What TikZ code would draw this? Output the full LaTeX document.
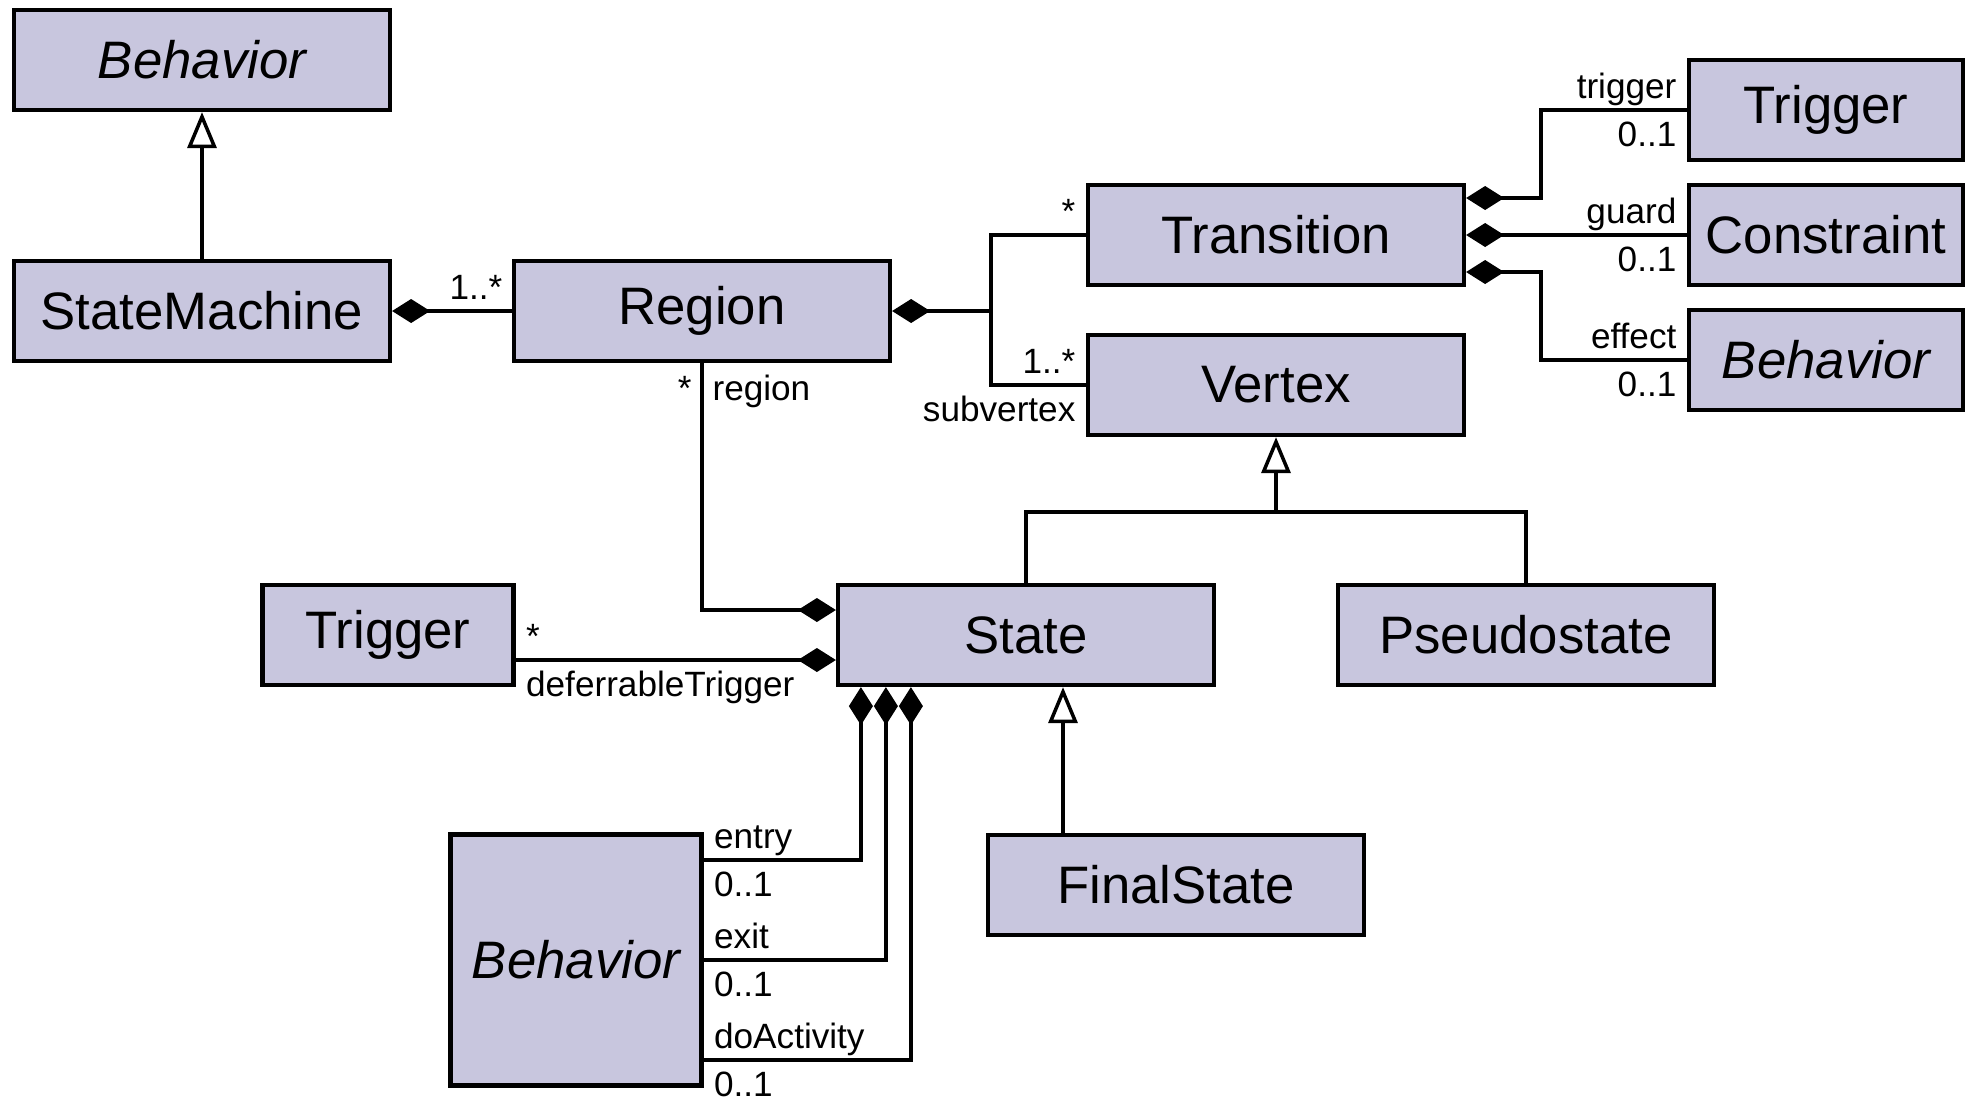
\documentclass[tikz,border=0pt]{standalone}
\usepackage{fontspec}
\setmainfont{Liberation Sans}
\usetikzlibrary{arrows.meta}
\definecolor{umlfill}{RGB}{200,198,222}

\begin{document}
\begin{tikzpicture}[
    cls/.style={rectangle, draw, line width=1.2pt, fill=umlfill, minimum width=3.76cm, minimum height=1cm, align=center, font=\fontsize{15}{18}\selectfont, inner sep=0pt},
    abscls/.style={cls, font=\fontsize{15}{18}\selectfont\itshape},
    comp/.style={{Diamond[length=3.8mm,width=2.4mm]}-, line width=1pt},
    gen/.style={-{Triangle[open,length=3.6mm,width=2.9mm]}, line width=1pt},
    role/.style={font=\fontsize{10}{12}\selectfont, inner xsep=2.5pt, inner ysep=2pt, text height=0.8em, text depth=0.08em},
]

\useasboundingbox (0,0) rectangle (19.66,-10.99);

\node[abscls] (behtop) at (2.02, -0.60) {Behavior};
\node[cls] (sm) at (2.02, -3.11) {StateMachine};
\node[cls] (region) at (7.02, -3.11) {Region};
\node[cls] (trans) at (12.76, -2.35) {Transition};
\node[cls] (vertex) at (12.76, -3.85) {Vertex};
\node[cls, minimum width=2.74cm] (trigR) at (18.26, -1.10) {Trigger};
\node[cls, minimum width=2.74cm] (constr) at (18.26, -2.35) {Constraint};
\node[abscls, minimum width=2.74cm] (behR) at (18.26, -3.60) {Behavior};
\node[cls, minimum width=2.51cm] (trigL) at (3.88, -6.35) {Trigger};
\node[cls] (state) at (10.26, -6.35) {State};
\node[cls] (pseudo) at (15.26, -6.35) {Pseudostate};
\node[cls] (final) at (11.76, -8.85) {FinalState};
\node[abscls, minimum width=2.51cm, minimum height=2.51cm] (behB) at (5.76, -9.60) {Behavior};

% state machine and regions
\draw[gen] (sm.north) -- (behtop.south);
\draw[comp] (sm.east) -- node[role, above, pos=0.7]{1..*} (region.west);
\draw[comp] (region.east) -- ++(0.99,0) coordinate (rj) |-
    node[role, above left, pos=1]{*} (trans.west);
\draw[line width=1pt] (rj) |-
    node[role, above left, pos=1]{1..*}
    node[role, below left, pos=1]{subvertex} (vertex.west);

% transition parts
\draw[comp] ([yshift=0.37cm]trans.east) -- ++(0.75,0) |-
    node[role, above left, pos=1]{trigger}
    node[role, below left, pos=1]{0..1} (trigR.west);
\draw[comp] (trans.east) --
    node[role, above left, pos=1]{guard}
    node[role, below left, pos=1]{0..1} (constr.west);
\draw[comp] ([yshift=-0.37cm]trans.east) -- ++(0.75,0) |-
    node[role, above left, pos=1]{effect}
    node[role, below left, pos=1]{0..1} (behR.west);

% state
\draw[comp] ([yshift=0.25cm]state.west) -|
    node[role, left, pos=0.95]{*}
    node[role, right, pos=0.95]{region} (region.south);
\draw[comp] ([yshift=-0.25cm]state.west) --
    node[role, above right, pos=1]{*}
    node[role, below right, pos=1]{deferrableTrigger} ([yshift=-0.25cm]trigL.east);
\draw[comp] ([xshift=0.25cm]state.south west) |-
    node[role, above right, pos=1]{entry}
    node[role, below right, pos=1]{0..1} ([yshift=1cm]behB.east);
\draw[comp] ([xshift=0.5cm]state.south west) |-
    node[role, above right, pos=1]{exit}
    node[role, below right, pos=1]{0..1} (behB.east);
\draw[comp] ([xshift=0.75cm]state.south west) |-
    node[role, above right, pos=1]{doActivity}
    node[role, below right, pos=1]{0..1} ([yshift=-1cm]behB.east);

% generalizations
\draw[gen] (state.north) |- ([yshift=-0.75cm]vertex.south) -- (vertex.south);
\draw[line width=1pt] (pseudo.north) |- ([yshift=-0.75cm]vertex.south);
\coordinate (fs) at ([xshift=-1.13cm]final.north);
\draw[gen] (fs) -- (fs |- state.south);

\end{tikzpicture}
\end{document}
